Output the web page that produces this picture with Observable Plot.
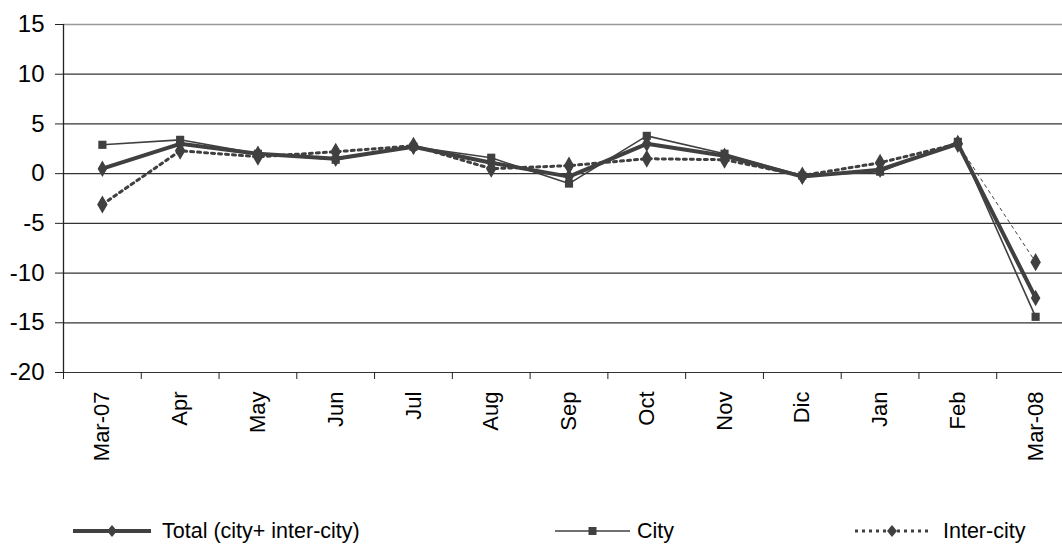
<!DOCTYPE html>
<html>
<head>
<meta charset="utf-8">
<script src="https://cdn.jsdelivr.net/npm/d3@7"></script>
<script src="https://cdn.jsdelivr.net/npm/@observablehq/plot@0.6"></script>
<style>
  body { margin: 0; background: #fff; font-family: "Liberation Sans", Arial, sans-serif; }
  #legend { position: relative; width: 1062px; height: 32px; font-size: 21.5px; color: #000; }
  #legend .item { position: absolute; top: 0; height: 32px; display: flex; align-items: center; }
  #legend svg { display: block; }
</style>
</head>
<body>
<div id="chart"></div>
<div id="legend"></div>
<script>
const months = ["Mar-07","Apr","May","Jun","Jul","Aug","Sep","Oct","Nov","Dic","Jan","Feb","Mar-08"];
const total  = [0.5, 3.0, 2.0, 1.5, 2.7, 1.1, -0.3, 3.0, 1.8, -0.3, 0.4, 3.0, -12.5];
const city   = [2.9, 3.4, 2.0, 1.4, 2.7, 1.6, -1.0, 3.8, 2.0, -0.2, 0.2, 3.2, -14.4];
const inter  = [-3.1, 2.3, 1.7, 2.2, 2.8, 0.5, 0.8, 1.5, 1.4, -0.2, 1.1, 3.0, -8.9];
const yTicks = [-20, -15, -10, -5, 0, 5, 10, 15];
const seriesNames = ["Total (city+ inter-city)", "City", "Inter-city"];

const ink = "#404040";
const rows = (vals) => months.map((m, i) => ({month: m, value: vals[i]}));
const T = rows(total), C = rows(city), I = rows(inter);
const n = months.length;

const x0 = 63, x1 = 1074;
const bw = (x1 - x0) / n;

const chart = Plot.plot({
  width: 1062,
  height: 515,
  marginTop: 24,
  marginBottom: 143,
  marginLeft: 63,
  marginRight: 0,
  style: {fontFamily: "'Liberation Sans', Arial, sans-serif", fontSize: "22px", color: "#000", background: "#fff"},
  x: {type: "band", domain: months, range: [x0, x1], padding: 0, round: false, label: null},
  y: {domain: [-20, 15], ticks: yTicks, label: null},
  marks: [
    Plot.ruleY(yTicks.filter(d => d !== 15), {stroke: "#333", strokeWidth: 1.2}),
    Plot.ruleY([15], {stroke: "#999", strokeWidth: 1.5}),
    Plot.ruleX([months[0]], {dx: -bw / 2, stroke: "#222", strokeWidth: 1.3}),
    Plot.axisY({ticks: yTicks, tickSize: 8, tickPadding: 11, tickFormat: d => d, stroke: "#222", label: null}),
    Plot.axisX({tickSize: 7, text: null, dx: -bw / 2, stroke: "#222", label: null}),
    Plot.axisX({tickSize: 0, tickRotate: -90, tickPadding: 19, label: null}),
    Plot.line(I.slice(0, n - 1), {x: "month", y: "value", stroke: ink, strokeWidth: 3, strokeDasharray: "3,4"}),
    Plot.line(I.slice(n - 2), {x: "month", y: "value", stroke: ink, strokeWidth: 1, strokeDasharray: "3,4"}),
    Plot.dot(I, {x: "month", y: "value", symbol: "diamond", r: 5.5, fill: ink, stroke: "none"}),
    Plot.line(C, {x: "month", y: "value", stroke: ink, strokeWidth: 1.6}),
    Plot.dot(C, {x: "month", y: "value", symbol: "square", r: 4.6, fill: ink, stroke: "none"}),
    Plot.line(T, {x: "month", y: "value", stroke: ink, strokeWidth: 4}),
    Plot.dot(T, {x: "month", y: "value", symbol: "diamond", r: 5, fill: ink, stroke: "none"})
  ]
});
// y tick labels: slightly larger, as in the reference
d3.select(chart).selectAll("g").filter(function() {
  const a = this.getAttribute("aria-label") || "";
  return a.startsWith("y-axis") && a.includes("label");
}).selectAll("text").style("font-size", "24px");
document.getElementById("chart").appendChild(chart);

// legend
const legend = document.getElementById("legend");
const items = [
  {left: 73, name: seriesNames[0], width: 78, sw: 4, dash: null, sym: "diamond", gap: 11},
  {left: 555, name: seriesNames[1], width: 75, sw: 1.6, dash: null, sym: "square", gap: 7},
  {left: 855, name: seriesNames[2], width: 74, sw: 3, dash: "3,4", sym: "diamond", gap: 14}
];
for (const it of items) {
  const div = document.createElement("div");
  div.className = "item";
  div.style.left = it.left + "px";
  const s = d3.create("svg").attr("width", it.width).attr("height", 14);
  s.append("line").attr("x1", 0).attr("x2", it.width).attr("y1", 7).attr("y2", 7)
    .attr("stroke", ink).attr("stroke-width", it.sw).attr("stroke-dasharray", it.dash);
  const cx = it.width / 2;
  if (it.sym === "square") {
    s.append("rect").attr("x", cx - 4).attr("y", 3).attr("width", 8).attr("height", 8).attr("fill", ink);
  } else {
    s.append("path").attr("d", `M${cx},1L${cx + 5},7L${cx},13L${cx - 5},7Z`).attr("fill", ink);
  }
  div.appendChild(s.node());
  const span = document.createElement("span");
  span.textContent = it.name;
  span.style.marginLeft = it.gap + "px";
  div.appendChild(span);
  legend.appendChild(div);
}
</script>
</body>
</html>
